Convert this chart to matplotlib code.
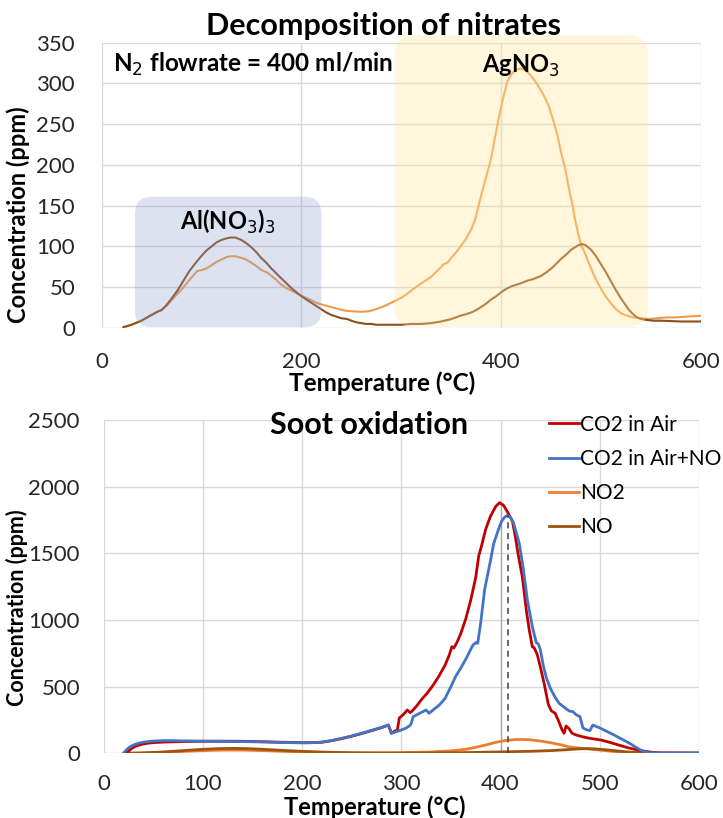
import numpy as np
import matplotlib
matplotlib.use("Agg")
import matplotlib.pyplot as plt
from matplotlib.patches import FancyBboxPatch

plt.rcParams['font.family'] = ['Lato', 'DejaVu Sans']

# ---------------- Decomposition of nitrates (N2 flow) ----------------
nit_no2_T = [22, 30, 40, 50, 56, 60, 65, 70, 76, 82, 88, 93, 96, 100, 105, 110, 115, 120, 125, 129,
             134, 140, 145, 150, 155, 159, 162, 166, 170, 175, 179, 185, 190, 195, 199, 205, 210, 215, 220, 226,
             232, 238, 245, 252, 258, 262, 267, 272, 279, 285, 290, 295, 300, 306, 312, 318, 324, 330, 336, 340,
             342, 346, 350, 355, 360, 365, 370, 374, 378, 382, 386, 390, 394, 398, 402, 406, 410, 414, 418, 421,
             424, 428, 432, 436, 440, 444, 448, 452, 456, 460, 464, 468, 471, 474, 477, 480, 483, 486, 489, 492,
             496, 500, 505, 510, 515, 520, 526, 532, 540, 548, 556, 565, 575, 585, 600]
nit_no2 = [1, 4, 9, 16, 20, 22, 27, 34, 42, 50, 59, 66, 70, 71, 73, 77, 81, 84, 87, 88,
           88, 86, 84, 80, 76, 72, 70, 68, 64, 59, 54, 49, 46, 43, 40, 37, 34, 31, 29, 27,
           25, 23, 21, 20.5, 20, 20, 20.5, 22, 25, 28, 31, 34, 37, 42, 48, 53, 58, 63, 70, 75,
           78, 80, 86, 93, 101, 110, 121, 133, 153, 172, 190, 208, 235, 260, 282, 302, 311, 316, 318, 318,
           316, 312, 306, 299, 291, 282, 271, 255, 238, 215, 196, 170, 153, 133, 116, 102, 94, 85, 76, 67,
           57, 48, 38, 30, 23, 18, 15, 13, 12, 11, 12, 13, 13, 14, 15]

nit_no_T = [22, 30, 40, 50, 56, 60, 65, 70, 76, 82, 88, 93, 99, 105, 110, 115, 120, 125, 129, 134,
            140, 145, 150, 155, 159, 165, 170, 175, 179, 185, 190, 195, 199, 205, 210, 215, 220, 225, 230, 235,
            240, 246, 250, 255, 260, 265, 270, 275, 280, 290, 300, 310, 320, 330, 340, 350, 359, 365, 370, 375,
            379, 385, 390, 395, 399, 405, 410, 415, 420, 426, 432, 440, 446, 452, 456, 460, 465, 470, 475, 478,
            481, 484, 487, 490, 495, 499, 505, 510, 515, 519, 524, 528, 532, 536, 540, 545, 552, 560, 580, 600]
nit_no = [1, 4, 9, 16, 20, 22, 28, 36, 46, 58, 70, 78, 87, 95, 100, 105, 108, 110, 111, 111,
          108, 104, 99, 93, 87, 80, 73, 67, 62, 55, 49, 44, 40, 35, 31, 27, 23, 19, 16, 14,
          12, 11, 9, 7, 6, 5, 5, 4, 4, 4, 4, 5, 5, 6, 8, 11, 15, 17, 19, 22,
          25, 30, 35, 39, 43, 48, 51, 53, 55, 58, 60, 64, 69, 75, 80, 85, 90, 96, 100, 102,
          103, 102, 99, 96, 88, 80, 68, 57, 46, 38, 29, 22, 17, 13, 11, 10, 9, 9, 8, 8]

nit_yticks = [0, 50, 100, 150, 200, 250, 300, 350]
nit_xticks = [0, 200, 400, 600]

# ---------------- Soot oxidation ----------------
co2_air_T = [22, 25, 28, 32, 36, 40, 45, 50, 60, 70, 80, 100, 120, 140, 160, 180, 200, 210, 220, 230,
             240, 250, 260, 270, 280, 287, 290, 293, 296, 298, 302, 306, 309, 312, 316, 320, 326, 332, 338, 344,
             348, 351, 353, 356, 360, 365, 370, 375, 378, 381, 385, 390, 395, 399, 403, 407, 412, 415, 418, 422,
             426, 429, 432, 434, 437, 440, 444, 448, 451, 455, 458, 462, 464, 466, 469, 472, 477, 482, 490, 501,
             510, 519, 528, 538, 545, 553, 560, 580, 600]
co2_air = [0, 15, 35, 52, 62, 70, 76, 80, 84, 86, 88, 90, 91, 90, 87, 83, 80, 80, 83, 95,
           110, 128, 148, 170, 192, 212, 150, 165, 175, 265, 290, 325, 305, 325, 360, 400, 450, 510, 580, 660,
           730, 800, 790, 830, 900, 1010, 1150, 1320, 1480, 1560, 1680, 1780, 1850, 1880, 1860, 1810, 1740, 1620, 1480, 1320,
           1070, 920, 800, 790, 740, 650, 520, 370, 320, 300, 250, 175, 150, 205, 185, 150, 135, 125, 112, 100,
           82, 62, 42, 25, 15, 7, 3, 2, 2]

co2_airno_T = [20, 23, 26, 30, 35, 40, 45, 50, 60, 70, 80, 100, 120, 140, 160, 180, 200, 210, 220, 230,
               240, 250, 260, 270, 280, 287, 290, 295, 300, 305, 309, 310, 312, 318, 325, 328, 332, 338, 344, 350,
               355, 360, 366, 372, 375, 377, 380, 384, 387, 390, 393, 397, 401, 404, 407, 410, 413, 416, 419, 423,
               427, 432, 436, 438, 440, 443, 446, 450, 455, 459, 465, 469, 473, 476, 480, 483, 487, 490, 493, 500,
               511, 520, 530, 537, 541, 548, 555, 600]
co2_airno = [0, 25, 45, 62, 75, 83, 88, 92, 95, 95, 93, 91, 89, 88, 85, 81, 78, 79, 84, 96,
             112, 130, 150, 172, 194, 212, 150, 162, 175, 190, 210, 225, 275, 298, 325, 300, 325, 360, 410, 500,
             580, 640, 720, 810, 830, 825, 980, 1230, 1340, 1450, 1570, 1660, 1740, 1770, 1785, 1770, 1730, 1650, 1570, 1380,
             1150, 950, 830, 820, 780, 660, 570, 490, 420, 375, 340, 318, 312, 290, 275, 190, 175, 170, 212, 190,
             150, 115, 75, 42, 25, 5, 2, 2]

no2_T = [20, 40, 60, 80, 100, 120, 140, 160, 180, 200, 230, 260, 290, 310, 330, 350, 365, 375, 385, 395,
         405, 415, 422, 430, 440, 450, 460, 468, 475, 485, 495, 505, 515, 525, 540, 560, 600]
no2 = [0, 2, 6, 14, 20, 24, 24, 20, 15, 10, 5, 3, 4, 6, 10, 18, 30, 45, 62, 82,
       96, 103, 104, 101, 92, 80, 65, 50, 42, 35, 28, 20, 13, 8, 3, 1, 0]

no_T = [20, 40, 60, 80, 100, 115, 130, 145, 160, 180, 200, 220, 250, 280, 300, 330, 360, 390, 410, 430,
        450, 465, 478, 488, 495, 505, 515, 525, 535, 545, 560, 600]
no = [0, 3, 10, 20, 30, 35, 37, 35, 30, 22, 15, 9, 4, 2, 2, 3, 5, 9, 12, 15,
      20, 26, 33, 35, 33, 27, 20, 12, 6, 3, 1, 1]

soot_labels = ['CO2 in Air', 'CO2 in Air+NO', 'NO2', 'NO']
soot_colors = ['#C00000', '#4472C4', '#ED7D31', '#A0520F']
soot_yticks = [0, 500, 1000, 1500, 2000, 2500]
soot_xticks = [0, 100, 200, 300, 400, 500, 600]
peak_air_T, peak_air = 400, 1880
peak_airno_T, peak_airno = 407, 1785

GRID = '#D9D9D9'
TICK = '#262626'

fig = plt.figure(figsize=(7.23, 8.18), dpi=100)


def style_axes(ax, xticks, yticks, xlim, ylim, ypad, xpad):
    ax.set_xlim(*xlim)
    ax.set_ylim(*ylim)
    ax.set_xticks(xticks)
    ax.set_yticks(yticks)
    for s in ax.spines.values():
        s.set_visible(False)
    ax.grid(True, color=GRID, lw=1.0, zorder=0)
    ax.set_axisbelow(True)
    ax.tick_params(length=0, labelsize=16, colors=TICK)
    ax.tick_params(axis='y', pad=ypad)
    ax.tick_params(axis='x', pad=xpad)


# ---- top panel ----
ax1 = fig.add_axes([0.1404, 0.599, 0.8292, 0.3488])
style_axes(ax1, nit_xticks, nit_yticks, (0, 600), (0, 350), 19, 17)
ax1.plot(nit_no2_T, nit_no2, color='#F29A48', lw=1.5, zorder=2)
ax1.plot(nit_no_T, nit_no, color='#8E4E1E', lw=1.5, zorder=2)

# highlighted temperature windows (px-based rounding)
y_per_px = 350 / 285.3
ax1.add_patch(FancyBboxPatch((33.5, 1), 186.5, 160,
                             boxstyle='round,pad=0,rounding_size=17',
                             mutation_aspect=y_per_px, facecolor='#8C9FD0',
                             edgecolor='none', alpha=0.3, zorder=3, clip_on=False))
ax1.add_patch(FancyBboxPatch((293.5, 1.5), 253.5, 357.5,
                             boxstyle='round,pad=0,rounding_size=20',
                             mutation_aspect=y_per_px, facecolor='#FFE699',
                             edgecolor='none', alpha=0.35, zorder=3, clip_on=False))

ax1.text(11.5, 323.5, r'N$_2$ flowrate = 400 ml/min', fontsize=17.5, fontweight='bold',
         ha='left', va='center', zorder=5)
ax1.text(419.5, 321, r'AgNO$_3$', fontsize=17, fontweight='bold', ha='center', va='center', zorder=5)
ax1.text(126.5, 130, r'Al(NO$_3$)$_3$', fontsize=17, fontweight='bold', ha='center', va='center', zorder=5)

ax1.set_ylabel('Concentration (ppm)', fontsize=17, fontweight='bold')
ax1.yaxis.set_label_coords(-0.139, 0.396)
ax1.yaxis.label.set_va('center')
ax1.set_xlabel('Temperature (°C)', fontsize=17.5, fontweight='bold')
ax1.xaxis.set_label_coords(0.468, -0.192)
ax1.xaxis.label.set_va('center')
fig.text(0.530, 0.968, 'Decomposition of nitrates', fontsize=22, fontweight='bold',
         ha='center', va='center')

# ---- bottom panel ----
ax2 = fig.add_axes([0.1432, 0.0791, 0.8237, 0.4075])
style_axes(ax2, soot_xticks, soot_yticks, (0, 600), (0, 2500), 17, 15)
series = [(co2_air_T, co2_air), (co2_airno_T, co2_airno), (no2_T, no2), (no_T, no)]
handles = []
for (t, v), lab, col in zip(series, soot_labels, soot_colors):
    h, = ax2.plot(t, v, color=col, lw=2.0, label=lab, zorder=3)
    handles.append(h)
handles[2].set_zorder(2.5)
handles[3].set_zorder(2.6)

ax2.plot([peak_air_T, peak_air_T], [0, peak_air], color='#A6A6A6', lw=0.9, zorder=1)
ax2.plot([peak_airno_T, peak_airno_T], [0, peak_airno], color='#404040', lw=1.1,
         ls=(0, (4, 3)), zorder=4)

ax2.set_ylabel('Concentration (ppm)', fontsize=15.5, fontweight='bold')
ax2.yaxis.set_label_coords(-0.145, 0.437)
ax2.yaxis.label.set_va('center')
ax2.set_xlabel('Temperature (°C)', fontsize=17, fontweight='bold')
ax2.xaxis.set_label_coords(0.456, -0.162)
ax2.xaxis.label.set_va('center')
fig.text(0.510, 0.480, 'Soot oxidation', fontsize=22, fontweight='bold', ha='center', va='center')

fig.legend(handles=handles, labels=soot_labels, loc='upper left',
           bbox_to_anchor=(0.759, 0.493), frameon=False, fontsize=15,
           handlelength=1.45, handletextpad=0.05, labelspacing=0.68,
           borderpad=0, borderaxespad=0)

fig.savefig('out.png', dpi=100)
